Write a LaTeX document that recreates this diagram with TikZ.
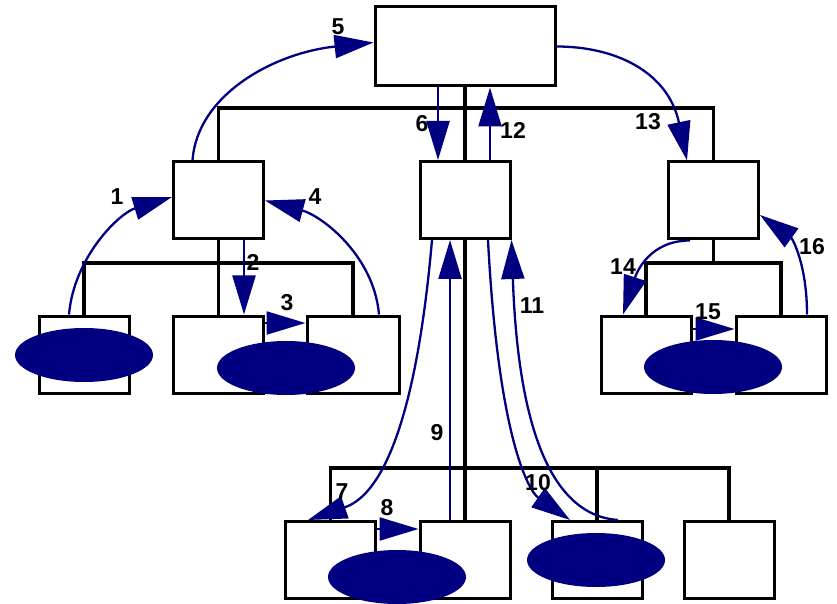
\documentclass[tikz,border=0pt]{standalone}
\usepackage{fontspec}
\setmainfont{Liberation Sans}
\usetikzlibrary{arrows.meta,shapes.geometric}
\definecolor{flowblue}{HTML}{000080}
\tikzset{
	box/.style={draw, line width=3pt, minimum width=90pt, minimum height=77pt, inner sep=0pt},
	blob/.style={ellipse, fill=flowblue, minimum width=138pt, minimum height=54pt, inner sep=0pt},
	bus/.style={line width=3.2pt},
	flow/.style={flowblue, line width=2.3pt, -{Triangle[length=39pt,width=23pt]}},
	num/.style={font=\fontsize{23}{27}\selectfont\bfseries, inner sep=0pt}
}

\begin{document}
\begin{tikzpicture}[x=1pt, y=1pt]
			%%%%% START %%%%%
			\useasboundingbox (0,0) rectangle (837,603);
			
			\node[box, minimum width=180pt, minimum height=79pt] (top) at (465,556.5) {};
			\node[box] (lft) at (218.5,402.5) {};
			\node[box] (mid) at (465,403) {};
			\node[box] (rgt) at (713.5,402.5) {};
			
			\node[box] (L1) at (84,248.5) {};
			\node[box] (L2) at (218.5,248.5) {};
			\node[box, minimum width=92pt] (L3) at (353,248.5) {};
			
			\node[box] (R1) at (646,248.5) {};
			\node[box] (R2) at (781,248.5) {};
			
			\node[box] (B1) at (330.5,43) {};
			\node[box] (B2) at (465,43) {};
			\node[box] (B3) at (597,43) {};
			\node[box] (B4) at (729,43) {};
			
			\coordinate (busT) at (0,495);
			\coordinate (busL) at (0,340);
			\coordinate (busR) at (0,340);
			\coordinate (busM) at (0,135);
			
			\draw[bus] (top.south) -- (mid.north);
			\draw[bus] (lft.north) -- (lft.north |- busT) -- (rgt.north |- busT) -- (rgt.north);
			
			\draw[bus] (lft.south) -- (L2.north);
			\draw[bus] (L1.north) -- (L1.north |- busL) -- (L3.north |- busL) -- (L3.north);
			
			\draw[bus] (rgt.south) -- (rgt.south |- busR);
			\draw[bus] (R1.north) -- (R1.north |- busR) -- (R2.north |- busR) -- (R2.north);
			
			\draw[bus] (mid.south) -- (B2.north);
			\draw[bus] (B1.north) -- (B1.north |- busM) -- (B4.north |- busM) -- (B4.north);
			\draw[bus] (B3.north) -- (B3.north |- busM);
			
			\node[blob] (E1) at (84,248) {};
			\node[blob] (E2) at (286,235) {};
			\node[blob] (E3) at (713,236) {};
			\node[blob] (E4) at (397,26) {};
			\node[blob] (E5) at (596,43) {};
			
			% left group
			\draw[flow] ([xshift=-15pt]L1.north) to[out=85, in=197, out distance=58pt, in distance=55pt] ([yshift=3.5pt]lft.west);
			\draw[flow] ([xshift=25.5pt]lft.south) -- ([xshift=25.5pt]L2.north);
			\draw[flow] ([yshift=31.5pt]L2.east) -- ([yshift=31.5pt]L3.west);
			\draw[flow] ([xshift=26pt]L3.north) to[out=95, in=-15, out distance=60pt, in distance=58pt] (lft.east);
			
			% top
			\draw[flow] ([xshift=-26pt]lft.north) to[out=86, in=186, out distance=66pt, in distance=100pt] ([yshift=4pt]top.west);
			\draw[flow] ([xshift=-27pt]mid.north |- top.south) -- ([xshift=-27pt]mid.north);
			\draw[flow] ([xshift=25pt]mid.north) -- ([xshift=25pt]mid.north |- top.south);
			\draw[flow] (top.east) to[out=0, in=102, out distance=60pt, in distance=90pt] ([xshift=-26.5pt]rgt.north);
			
			% middle group
			\draw[flow] ([xshift=-33pt]mid.south) to[out=-95, in=19, out distance=230pt, in distance=60pt] ([xshift=-22.5pt]B1.north);
			\draw[flow] ([yshift=31pt]B1.east) -- ([yshift=31pt]B2.west);
			\draw[flow] ([xshift=-15pt]B2.north) -- ([xshift=-15pt]B2.north |- mid.south);
			\draw[flow] ([xshift=23pt]mid.south) to[out=-87, in=145, out distance=200pt, in distance=50pt] ([xshift=-27pt]B3.north);
			\draw[flow] ([xshift=21pt]B3.north) to[out=176, in=-88, out distance=70pt, in distance=180pt] (mid.south east);
			
			% right group
			\draw[flow] ([xshift=-23.5pt]rgt.south) to[out=180, in=72, out distance=40pt, in distance=45pt] ([xshift=-23pt]R1.north);
			\draw[flow] ([yshift=25.5pt]R1.east) -- ([yshift=25.5pt]R2.west);
			\draw[flow] ([xshift=26pt]R2.north) to[out=90, in=-36, out distance=50pt, in distance=40pt] ([yshift=-14.5pt]rgt.east);
			
			\node[num] (n1) at (117,406) {1};
			\node[num] (n2) at (253,341) {2};
			\node[num] (n3) at (287,300) {3};
			\node[num] (n4) at (315,406) {4};
			\node[num] (n5) at (338,576) {5};
			\node[num] (n6) at (422,479) {6};
			\node[num] (n7) at (342,111) {7};
			\node[num] (n8) at (387,95) {8};
			\node[num] (n9) at (437,170) {9};
			\node[num] (n10) at (538,120) {10};
			\node[num] (n11) at (532,297) {11};
			\node[num] (n12) at (513,473) {12};
			\node[num] (n13) at (648,481) {13};
			\node[num] (n14) at (623,336) {14};
			\node[num] (n15) at (708,291) {15};
			\node[num] (n16) at (812,356) {16};
			
			%%%%% END %%%%%
\end{tikzpicture}
\end{document}
